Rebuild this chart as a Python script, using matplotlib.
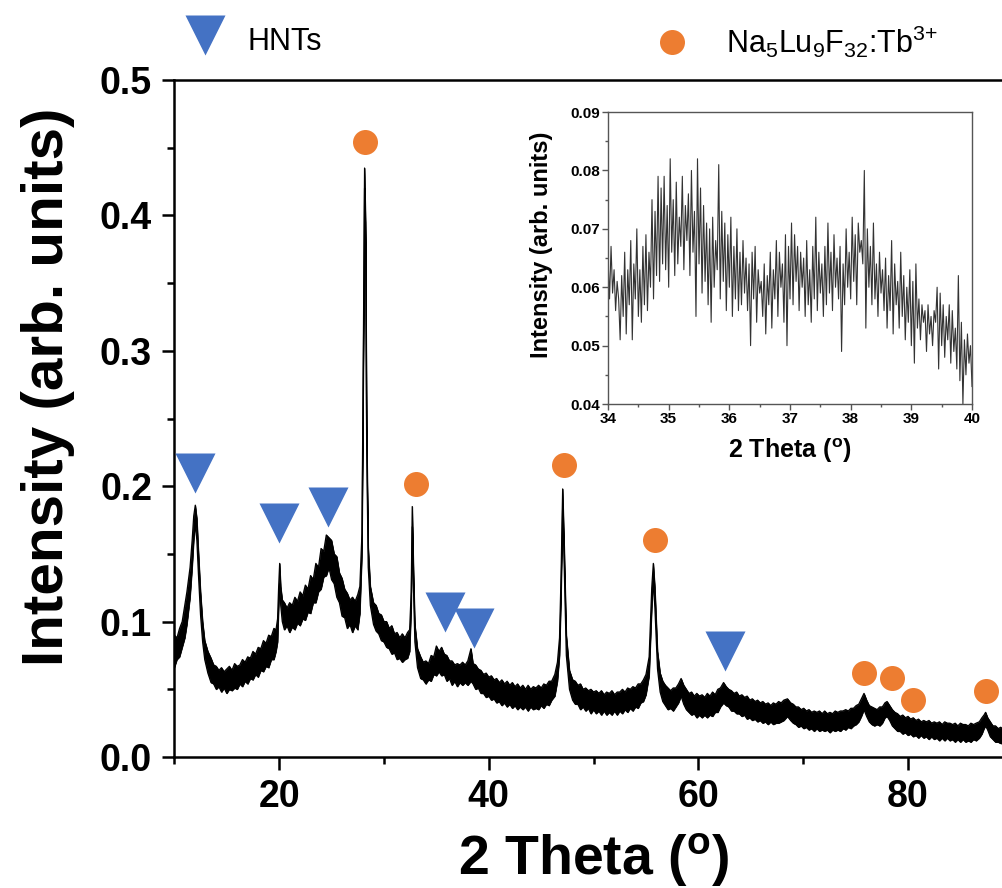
import numpy as np
import matplotlib
matplotlib.use("Agg")
import matplotlib.pyplot as plt
from matplotlib.lines import Line2D
from matplotlib.ticker import MultipleLocator

plt.rcParams['font.family'] = ['Liberation Sans', 'DejaVu Sans']
plt.rcParams['mathtext.fontset'] = 'custom'
plt.rcParams['mathtext.rm'] = 'Liberation Sans'
plt.rcParams['mathtext.it'] = 'Liberation Sans'
plt.rcParams['mathtext.bf'] = 'Liberation Sans:bold'

# ---- main XRD pattern: 2theta, lower and upper edge of the noisy trace ----
two_theta = [
    10.0, 10.25, 10.5, 10.75, 11.0, 11.2, 11.5, 11.7, 11.85, 12.0,
    12.15, 12.3, 12.5, 12.7, 12.9, 13.2, 13.5, 13.75, 14.0, 14.25,
    14.5, 14.75, 15.0, 15.25, 15.5, 15.75, 16.0, 16.25, 16.5, 16.75,
    17.0, 17.25, 17.5, 17.75, 18.0, 18.25, 18.5, 18.75, 19.0, 19.25,
    19.5, 19.7, 19.85, 19.95, 20.05, 20.15, 20.3, 20.5, 20.75, 21.0,
    21.25, 21.5, 21.75, 22.0, 22.25, 22.5, 22.75, 23.0, 23.25, 23.5,
    23.75, 24.0, 24.25, 24.5, 24.75, 25.0, 25.25, 25.5, 25.75, 26.0,
    26.25, 26.5, 26.75, 27.0, 27.25, 27.5, 27.7, 27.9, 28.05, 28.15,
    28.25, 28.35, 28.5, 28.7, 29.0, 29.25, 29.5, 29.75, 30.0, 30.25,
    30.5, 30.75, 31.0, 31.25, 31.5, 31.75, 32.0, 32.25, 32.45, 32.6,
    32.7, 32.8, 32.95, 33.2, 33.5, 33.75, 34.0, 34.25, 34.5, 34.75,
    35.0, 35.25, 35.5, 35.75, 36.0, 36.25, 36.5, 36.75, 37.0, 37.25,
    37.5, 37.75, 38.0, 38.3, 38.5, 38.75, 39.0, 39.25, 39.5, 39.75,
    40.0, 40.25, 40.5, 40.75, 41.0, 41.25, 41.5, 41.75, 42.0, 42.25,
    42.5, 42.75, 43.0, 43.25, 43.5, 43.75, 44.0, 44.25, 44.5, 44.75,
    45.0, 45.25, 45.5, 45.75, 46.0, 46.3, 46.55, 46.75, 46.9, 47.05,
    47.2, 47.4, 47.7, 48.0, 48.25, 48.5, 48.75, 49.0, 49.25, 49.5,
    49.75, 50.0, 50.25, 50.5, 50.75, 51.0, 51.25, 51.5, 51.75, 52.0,
    52.25, 52.5, 52.75, 53.0, 53.25, 53.5, 53.75, 54.0, 54.25, 54.5,
    54.75, 55.0, 55.3, 55.55, 55.7, 55.85, 56.1, 56.35, 56.6, 56.85,
    57.1, 57.35, 57.6, 57.85, 58.1, 58.35, 58.6, 58.85, 59.1, 59.35,
    59.6, 59.85, 60.1, 60.35, 60.6, 60.85, 61.1, 61.35, 61.6, 61.85,
    62.1, 62.4, 62.65, 62.9, 63.15, 63.4, 63.65, 63.9, 64.15, 64.4,
    64.65, 64.9, 65.15, 65.4, 65.65, 65.9, 66.15, 66.4, 66.65, 66.9,
    67.15, 67.4, 67.65, 67.9, 68.15, 68.5, 68.8, 69.05, 69.3, 69.55,
    69.8, 70.05, 70.3, 70.55, 70.8, 71.05, 71.3, 71.55, 71.8, 72.05,
    72.3, 72.55, 72.8, 73.05, 73.3, 73.55, 73.8, 74.05, 74.3, 74.55,
    74.8, 75.05, 75.3, 75.55, 75.8, 76.05, 76.3, 76.55, 76.8, 77.05,
    77.3, 77.55, 77.8, 78.0, 78.25, 78.5, 78.75, 79.0, 79.25, 79.5,
    79.75, 80.0, 80.25, 80.5, 80.75, 81.0, 81.25, 81.5, 81.75, 82.0,
    82.25, 82.5, 82.75, 83.0, 83.25, 83.5, 83.75, 84.0, 84.25, 84.5,
    84.75, 85.0, 85.25, 85.5, 85.75, 86.0, 86.25, 86.5, 86.8, 87.05,
    87.25, 87.4, 87.6, 87.85, 88.1, 88.35, 88.6, 88.85, 89.1, 89.35,
    89.6, 90.0]
int_low = [
    .066, .072, .074, .081, .088, .098, .118, .140, .160, .172,
    .160, .135, .105, .085, .072, .062, .055, .054, .050, .052,
    .048, .051, .047, .050, .049, .051, .050, .054, .052, .056,
    .054, .058, .057, .061, .059, .064, .063, .067, .066, .072,
    .072, .078, .085, .110, .128, .112, .100, .094, .097, .092,
    .096, .094, .099, .097, .102, .101, .107, .106, .114, .114,
    .122, .124, .133, .134, .140, .131, .128, .118, .114, .104,
    .103, .095, .098, .092, .097, .094, .106, .150, .300, .420,
    .380, .230, .140, .112, .098, .093, .091, .086, .085, .081,
    .080, .076, .077, .072, .073, .070, .072, .073, .078, .110,
    .170, .130, .085, .066, .058, .057, .054, .057, .056, .061,
    .060, .063, .060, .061, .056, .058, .053, .056, .052, .055,
    .053, .055, .053, .056, .054, .050, .051, .047, .047, .044,
    .045, .042, .043, .040, .041, .038, .040, .037, .039, .036,
    .038, .035, .037, .035, .037, .034, .037, .035, .036, .035,
    .038, .036, .039, .038, .042, .045, .056, .075, .120, .185,
    .140, .075, .050, .042, .039, .039, .035, .037, .034, .036,
    .032, .035, .032, .034, .031, .034, .031, .033, .031, .034,
    .031, .034, .032, .035, .033, .036, .034, .037, .036, .040,
    .041, .046, .060, .110, .130, .110, .065, .048, .041, .038,
    .035, .036, .034, .037, .040, .045, .039, .035, .033, .031,
    .032, .029, .031, .029, .031, .029, .031, .030, .033, .033,
    .037, .040, .038, .037, .034, .034, .032, .032, .030, .031,
    .028, .029, .027, .028, .026, .027, .025, .026, .024, .026,
    .024, .025, .025, .026, .027, .030, .027, .025, .024, .022,
    .023, .021, .022, .020, .021, .019, .021, .019, .020, .019,
    .020, .018, .020, .019, .020, .019, .021, .020, .022, .021,
    .023, .024, .026, .030, .035, .030, .026, .024, .023, .024,
    .023, .025, .029, .030, .027, .023, .021, .019, .019, .017,
    .018, .016, .017, .015, .016, .014, .016, .014, .015, .013,
    .015, .013, .014, .012, .014, .012, .014, .012, .013, .011,
    .013, .011, .013, .011, .012, .011, .013, .012, .014, .017,
    .021, .023, .020, .015, .013, .011, .011, .010, .010, .009,
    .009, .009]
int_high = [
    .090, .088, .095, .100, .112, .122, .140, .160, .178, .186,
    .176, .152, .122, .100, .086, .078, .073, .068, .067, .064,
    .066, .063, .065, .067, .064, .069, .067, .068, .072, .070,
    .074, .073, .078, .076, .081, .080, .086, .084, .090, .089,
    .095, .094, .102, .125, .143, .126, .116, .114, .110, .114,
    .112, .118, .115, .122, .119, .127, .124, .134, .131, .143,
    .140, .154, .152, .164, .162, .160, .150, .148, .136, .132,
    .124, .121, .116, .118, .115, .120, .126, .165, .320, .435,
    .395, .245, .155, .126, .114, .112, .106, .105, .100, .100,
    .095, .097, .091, .092, .088, .091, .088, .092, .094, .122,
    .185, .145, .098, .080, .074, .070, .071, .069, .075, .074,
    .082, .078, .081, .076, .075, .071, .071, .068, .069, .068,
    .070, .068, .071, .080, .069, .068, .065, .064, .061, .062,
    .059, .060, .057, .058, .055, .057, .054, .056, .053, .055,
    .052, .054, .051, .053, .050, .053, .050, .052, .051, .053,
    .051, .054, .053, .056, .056, .061, .070, .088, .135, .198,
    .155, .090, .064, .057, .056, .053, .054, .050, .051, .049,
    .050, .048, .049, .047, .049, .046, .048, .047, .049, .046,
    .048, .048, .050, .048, .051, .050, .052, .051, .054, .054,
    .057, .061, .074, .125, .143, .125, .078, .062, .056, .053,
    .051, .049, .051, .051, .054, .058, .053, .050, .047, .048,
    .045, .047, .045, .046, .044, .047, .045, .048, .046, .050,
    .051, .055, .052, .050, .049, .047, .048, .045, .046, .044,
    .045, .042, .043, .041, .042, .040, .041, .039, .040, .038,
    .040, .039, .041, .040, .042, .043, .040, .039, .037, .037,
    .035, .036, .034, .035, .033, .034, .033, .034, .032, .034,
    .032, .033, .032, .034, .033, .034, .034, .035, .034, .036,
    .036, .038, .039, .043, .047, .042, .038, .037, .036, .035,
    .037, .037, .040, .041, .038, .035, .033, .032, .030, .031,
    .029, .030, .028, .029, .027, .028, .026, .027, .026, .027,
    .025, .026, .025, .026, .024, .026, .025, .025, .024, .025,
    .023, .025, .024, .024, .023, .025, .024, .025, .026, .029,
    .031, .033, .029, .026, .023, .023, .021, .022, .020, .021,
    .020, .020]
assert len(two_theta) == len(int_low) == len(int_high)

# ---- peak markers ----
hnt_x = [12.0, 20.0, 24.7, 35.8, 38.6, 62.5]
hnt_y = [0.210, 0.173, 0.185, 0.107, 0.095, 0.078]
nlf_x = [28.2, 33.1, 47.2, 55.9, 75.8, 78.5, 80.5, 87.4]
nlf_y = [0.454, 0.202, 0.216, 0.160, 0.062, 0.058, 0.042, 0.049]

# ---- inset: 34-40 degrees ----
inset_int = [
    0.065, 0.058, 0.067, 0.059, 0.063, 0.056, 0.061, 0.058,
    0.051, 0.062, 0.055, 0.066, 0.052, 0.063, 0.057, 0.068,
    0.051, 0.064, 0.058, 0.070, 0.055, 0.063, 0.054, 0.067,
    0.057, 0.069, 0.056, 0.066, 0.060, 0.075, 0.058, 0.073,
    0.062, 0.079, 0.061, 0.077, 0.064, 0.079, 0.063, 0.074,
    0.060, 0.082, 0.066, 0.075, 0.062, 0.078, 0.064, 0.072,
    0.067, 0.079, 0.063, 0.074, 0.068, 0.076, 0.062, 0.080,
    0.066, 0.073, 0.055, 0.082, 0.064, 0.077, 0.059, 0.074,
    0.061, 0.071, 0.057, 0.070, 0.054, 0.072, 0.060, 0.068,
    0.063, 0.081, 0.058, 0.073, 0.061, 0.071, 0.056, 0.069,
    0.060, 0.072, 0.055, 0.067, 0.058, 0.070, 0.056, 0.066,
    0.057, 0.068, 0.059, 0.065, 0.056, 0.064, 0.050, 0.066,
    0.058, 0.067, 0.054, 0.063, 0.059, 0.061, 0.055, 0.064,
    0.052, 0.062, 0.057, 0.066, 0.053, 0.063, 0.058, 0.068,
    0.055, 0.066, 0.060, 0.064, 0.054, 0.069, 0.050, 0.067,
    0.058, 0.071, 0.057, 0.069, 0.061, 0.067, 0.056, 0.066,
    0.060, 0.065, 0.055, 0.068, 0.057, 0.063, 0.054, 0.067,
    0.058, 0.072, 0.056, 0.066, 0.059, 0.064, 0.055, 0.067,
    0.057, 0.071, 0.059, 0.066, 0.056, 0.069, 0.060, 0.065,
    0.058, 0.067, 0.049, 0.064, 0.057, 0.070, 0.060, 0.066,
    0.058, 0.072, 0.061, 0.069, 0.057, 0.071, 0.066, 0.068,
    0.064, 0.080, 0.053, 0.070, 0.060, 0.067, 0.057, 0.071,
    0.058, 0.064, 0.055, 0.066, 0.059, 0.063, 0.056, 0.065,
    0.053, 0.062, 0.056, 0.068, 0.052, 0.064, 0.057, 0.061,
    0.053, 0.066, 0.055, 0.062, 0.051, 0.060, 0.054, 0.063,
    0.050, 0.061, 0.047, 0.064, 0.053, 0.058, 0.051, 0.057,
    0.054, 0.056, 0.049, 0.057, 0.052, 0.055, 0.050, 0.056,
    0.054, 0.060, 0.046, 0.059, 0.050, 0.057, 0.048, 0.055,
    0.051, 0.057, 0.047, 0.056, 0.049, 0.053, 0.046, 0.062,
    0.044, 0.054, 0.040, 0.051, 0.045, 0.052, 0.047, 0.050,
    0.043]
inset_x = np.linspace(34.0, 40.0, len(inset_int))

labels = {"hnt": "HNTs", "nlf": r"Na$_5$Lu$_9$F$_{32}$:Tb$^{3{+}}$"}

BLUE = "#4472C4"
ORANGE = "#ED7D31"

fig = plt.figure(figsize=(10.03, 8.88), dpi=100)
ax = fig.add_axes([0.1738, 0.1475, 0.836, 0.7624])

ax.fill_between(two_theta, int_low, int_high, color="black", lw=0.5)
ax.plot(two_theta, int_high, color="black", lw=0.9)
ax.plot(two_theta, int_low, color="black", lw=0.9)

ax.plot(hnt_x, hnt_y, ls="none", marker="v", ms=29.5, color=BLUE, mec="none", zorder=5, clip_on=False)
ax.plot(nlf_x, nlf_y, ls="none", marker="o", ms=18, color=ORANGE, mec="none", zorder=5, clip_on=False)

ax.set_xlim(10, 90)
ax.set_ylim(0, 0.5)
ax.xaxis.set_major_locator(MultipleLocator(20))
ax.xaxis.set_minor_locator(MultipleLocator(10))
ax.yaxis.set_major_locator(MultipleLocator(0.1))
ax.yaxis.set_minor_locator(MultipleLocator(0.05))
ax.set_xticks([20, 40, 60, 80])
ax.set_yticks([0.0, 0.1, 0.2, 0.3, 0.4, 0.5])
ax.set_yticklabels(["0.0", "0.1", "0.2", "0.3", "0.4", "0.5"])
for s in ["left", "bottom", "top", "right"]:
    ax.spines[s].set_linewidth(1.8)
ax.tick_params(axis="both", which="major", direction="out", length=9, width=1.8, pad=7)
ax.tick_params(axis="both", which="minor", direction="out", length=5, width=1.8)
for t in ax.get_xticklabels() + ax.get_yticklabels():
    t.set_fontsize(27)
    t.set_fontweight("bold")
ax.set_xlabel(r"2 Theta ($\mathbf{^o}$)", fontsize=40, fontweight="bold", labelpad=12)
ax.set_ylabel("Intensity (arb. units)", fontsize=42, fontweight="bold")
ax.yaxis.set_label_coords(-0.118, 0.547)

# legend markers above the plot
fig.add_artist(Line2D([0.2044], [0.9606], transform=fig.transFigure, ls="none",
                      marker="v", ms=29.5, color=BLUE, mec="none"))
fig.text(0.247, 0.953, labels["hnt"], fontsize=22, va="center", ha="left")
fig.add_artist(Line2D([0.670], [0.953], transform=fig.transFigure, ls="none",
                      marker="o", ms=18, color=ORANGE, mec="none"))
fig.text(0.724, 0.953, labels["nlf"], fontsize=22, va="center", ha="left")

# inset
ins = fig.add_axes([0.6062, 0.545, 0.3629, 0.3288])
ins.plot(inset_x, inset_int, color="#333333", lw=0.8)
ins.set_xlim(34, 40)
ins.set_ylim(0.04, 0.09)
ins.xaxis.set_major_locator(MultipleLocator(1))
ins.xaxis.set_minor_locator(MultipleLocator(0.5))
ins.yaxis.set_major_locator(MultipleLocator(0.01))
ins.yaxis.set_minor_locator(MultipleLocator(0.005))
ins.set_yticks([0.04, 0.05, 0.06, 0.07, 0.08, 0.09])
ins.set_yticklabels(["0.04", "0.05", "0.06", "0.07", "0.08", "0.09"])
for s in ins.spines.values():
    s.set_color("#555555")
    s.set_linewidth(1.0)
ins.tick_params(axis="both", which="major", direction="out", length=4, width=1.0, color="#555555", pad=2)
ins.tick_params(axis="both", which="minor", direction="out", length=2, width=1.0, color="#555555")
for t in ins.get_xticklabels() + ins.get_yticklabels():
    t.set_fontsize(11)
    t.set_fontweight("bold")
ins.set_xlabel(r"2 Theta ($\mathbf{^o}$)", fontsize=18, fontweight="bold", labelpad=7)
ins.set_ylabel("Intensity (arb. units)", fontsize=17, fontweight="bold")
ins.yaxis.set_label_coords(-0.152, 0.545)

fig.savefig("out.png", dpi=100)
